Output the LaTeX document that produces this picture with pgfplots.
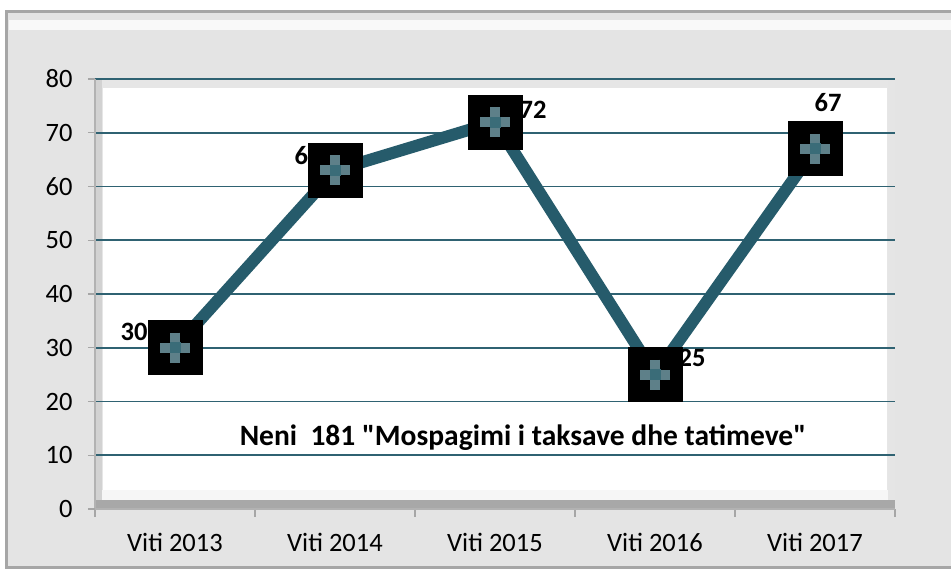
\documentclass[border=0pt]{standalone}
\usepackage{fontspec}
\setmainfont{Carlito}
\usepackage{pgfplots}
\usepackage{pgfplotstable}
\pgfplotsset{compat=1.18}
\definecolor{bgframe}{HTML}{E4E4E4}
\definecolor{linec}{HTML}{265B6B}
\definecolor{gridc}{HTML}{2F6272}
\definecolor{crossc}{HTML}{5E8089}
\definecolor{crossin}{HTML}{3A6C78}
\definecolor{wallc}{HTML}{E6E6E6}
\definecolor{floorc}{HTML}{A8A8A8}
\newcommand\sq{\XeTeXglyph\XeTeXcharglyph"22\relax}

\pgfplotstableread{
x y dx dy
0 30 -41 16
1 63 -27 15
2 72 38 12
3 25 37 17
4 67 13 46
}\datatable

\begin{document}
\begin{tikzpicture}[x=1pt,y=1pt,font=\fontsize{26.5}{30}\selectfont]
\path[use as bounding box] (0,0) rectangle (951,570);
\fill[white] (0,0) rectangle (951,570);
\fill[bgframe] (6,2) rectangle (960,558);
\fill[white!95!gray] (9,540) rectangle (960,550);
\draw[gray!70, line width=3pt] (6,2) rectangle (960,558);
% plot walls
\fill[wallc] (95,61) rectangle (895,491);
\fill[white] (103,80) rectangle (887,482);
\fill[gray!35] (95,61) rectangle (102,491);
\fill[gray!20] (888,61) rectangle (895,491);
\fill[white!93!gray] (102,70) rectangle (888,80);
\fill[floorc] (95,61) rectangle (895,70);
\begin{axis}[
  at={(95pt,61pt)}, anchor=south west, scale only axis,
  width=800pt, height=430pt,
  xmin=-0.5, xmax=4.5, ymin=0, ymax=80,
  /pgf/number format/assume math mode=true,
  ytick={10,20,...,80}, extra y ticks={0}, extra y tick style={grid=none},
  xtick={0,...,4},
  xticklabels={Viti 2013,Viti 2014,Viti 2015,Viti 2016,Viti 2017},
  minor xtick={-0.5,0.5,...,4.5},
  major x tick style={draw=none},
  minor tick length=8pt, major tick length=7pt,
  tick align=outside,
  tick style={gray!70, line width=1.2pt},
  ymajorgrids, grid style={gridc, line width=1.6pt},
  axis x line*=bottom, axis y line*=left,
  axis line style={gray!60, line width=1.5pt, -},
  tick label style={font=\fontsize{26.5}{30}\selectfont, black},
  xticklabel style={yshift=-14pt},
  yticklabel style={xshift=-12pt},
  clip=false,
]
\addplot[draw=none, mark=none,
  visualization depends on={\thisrow{dx} \as \dx},
  visualization depends on={\thisrow{dy} \as \dy},
  nodes near coords,
  nodes near coords style={anchor=center, xshift=\dx pt, yshift=\dy pt,
    font=\fontsize{26.5}{30}\selectfont\bfseries, black}]
  table[x=x,y=y]{\datatable};
\addplot[linec, line width=12pt, line join=miter,
  mark=square*, mark size=27pt, mark options={black, fill=black, draw=black, line width=0pt}]
  table[x=x,y=y]{\datatable};
\addplot[only marks, mark=+, mark size=15pt, crossc, line width=10pt]
  table[x=x,y=y]{\datatable};
\addplot[only marks, mark=square*, mark size=5pt, crossin, mark options={line width=0pt}]
  table[x=x,y=y]{\datatable};
\node[font=\fontsize{29.5}{33}\selectfont\bfseries, black] at (axis cs:2.175,13.2)
  {Neni\ \ 181 \sq Mospagimi i taksave dhe tatimeve\sq};
\end{axis}
\end{tikzpicture}
\end{document}
